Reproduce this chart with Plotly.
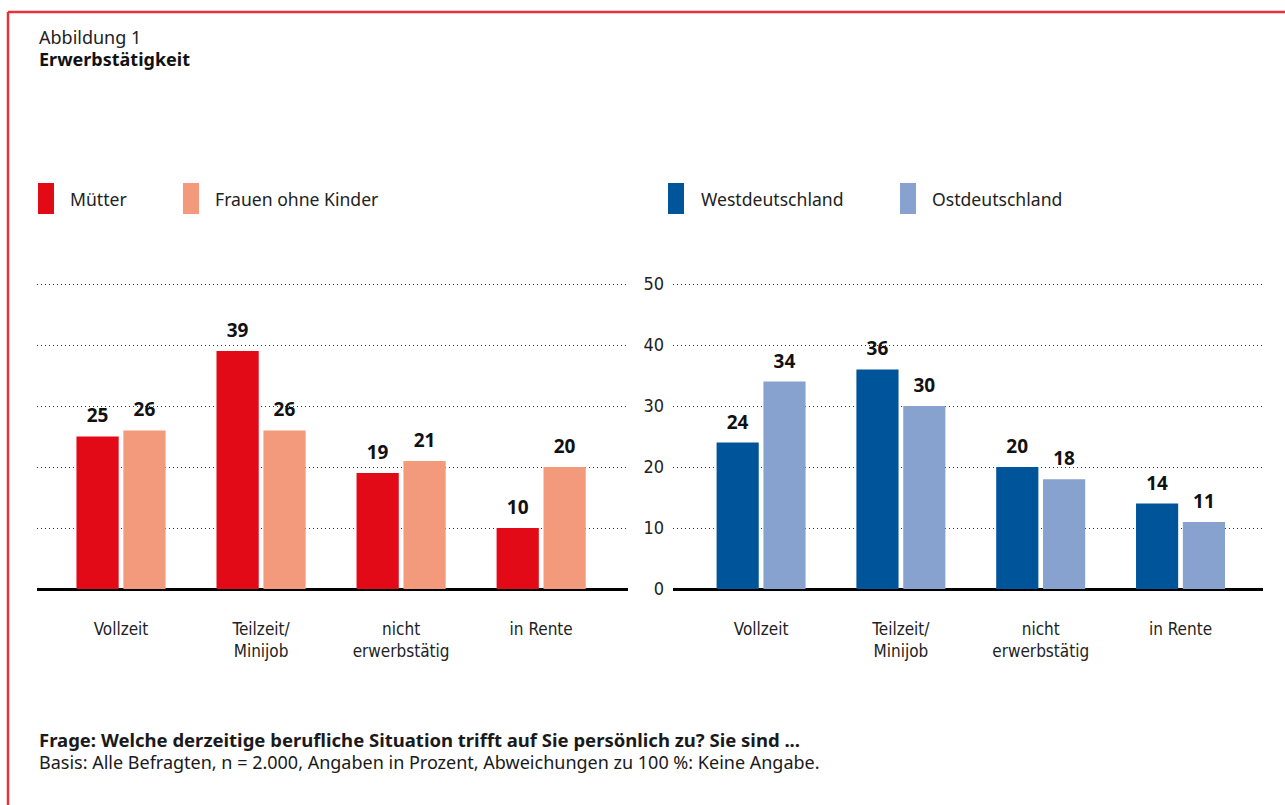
import plotly.graph_objects as go

categories = ["Vollzeit", "Teilzeit/<br>Minijob", "nicht<br>erwerbstätig", "in Rente"]
left_names = ["Mütter", "Frauen ohne Kinder"]
muetter = [25, 39, 19, 10]
frauen_ohne_kinder = [26, 26, 21, 20]
right_names = ["Westdeutschland", "Ostdeutschland"]
west = [24, 36, 20, 14]
ost = [34, 30, 18, 11]
y_ticks = [0, 10, 20, 30, 40, 50]

title_1 = "Abbildung 1"
title_2 = "Erwerbstätigkeit"
question = "Frage: Welche derzeitige berufliche Situation trifft auf Sie persönlich zu? Sie sind ..."
basis = "Basis: Alle Befragten, n = 2.000, Angaben in Prozent, Abweichungen zu 100 %: Keine Angabe."

colors = ["#E30A17", "#F29A7B", "#00559A", "#87A2CE"]

W, H = 1285, 805
def px(x):
    return x / W
def py(y):
    return 1 - y / H

NARROW = "Liberation Sans Narrow, DejaVu Sans Condensed, sans-serif"
MAIN = "Noto Sans, Open Sans, sans-serif"

fig = go.Figure()
series = [
    (left_names[0], muetter, colors[0], "x", "y"),
    (left_names[1], frauen_ohne_kinder, colors[1], "x", "y"),
    (right_names[0], west, colors[2], "x2", "y2"),
    (right_names[1], ost, colors[3], "x2", "y2"),
]
for name, vals, col, xa, ya in series:
    fig.add_trace(go.Bar(
        x=categories, y=vals, name=name, marker_color=col, marker_line_width=0,
        xaxis=xa, yaxis=ya,
        text=[f"<span style='font-size:19px'><b>{v}</b></span><br> " for v in vals],
        textposition="outside", constraintext="none",
        textfont=dict(family=MAIN, size=7, color="#111111"),
        cliponaxis=False, showlegend=False,
    ))

YMAX = 50.6
ydom = [py(589), py(589 - YMAX * 6.1)]
axis_common = dict(
    range=[0, YMAX], tickvals=y_ticks, showgrid=True, gridcolor="#333333",
    griddash="1px,3px", gridwidth=1, zeroline=True, zerolinecolor="#000000",
    zerolinewidth=3, domain=ydom, fixedrange=True,
)
fig.update_layout(
    width=W, height=H, margin=dict(l=0, r=0, t=0, b=0, pad=0, autoexpand=False),
    paper_bgcolor="white", plot_bgcolor="white",
    barmode="group", bargap=0.33, bargroupgap=0.1,
    xaxis=dict(domain=[px(37), px(628)], range=[-0.6, 3.62], type="category",
               showgrid=False, showline=False, ticks="", automargin=False,
               tickfont=dict(family=NARROW, size=17, color="#222222"),
               ticklabelstandoff=28),
    xaxis2=dict(domain=[px(673), px(1263)], range=[-0.63, 3.59], type="category",
                showgrid=False, showline=False, ticks="", anchor="y2", automargin=False,
                tickfont=dict(family=NARROW, size=17, color="#222222"),
                ticklabelstandoff=28),
    yaxis=dict(**axis_common, showticklabels=False, anchor="x", automargin=False),
    yaxis2=dict(**axis_common, anchor="x2", showticklabels=True, automargin=False,
                tickfont=dict(family=NARROW, size=18, color="#222222"),
                ticklabelstandoff=8),
    showlegend=False,
)

shapes = []
# frame lines
shapes.append(dict(type="line", xref="paper", yref="paper", x0=px(8), x1=1, y0=py(12), y1=py(12),
                   line=dict(color="#E5323C", width=2.5)))
shapes.append(dict(type="line", xref="paper", yref="paper", x0=px(8), x1=px(8), y0=py(12), y1=0,
                   line=dict(color="#E5323C", width=2.5)))

legend_items = [
    (left_names[0], colors[0], 38, 68),
    (left_names[1], colors[1], 183, 213),
    (right_names[0], colors[2], 668, 699),
    (right_names[1], colors[3], 900, 930),
]
annotations = []
for name, col, rx, tx in legend_items:
    shapes.append(dict(type="rect", xref="paper", yref="paper", x0=px(rx), x1=px(rx + 16),
                       y0=py(214), y1=py(183), fillcolor=col, line=dict(width=0)))
    annotations.append(dict(text=name, xref="paper", yref="paper", x=px(tx), y=py(199),
                            xanchor="left", yanchor="middle", showarrow=False,
                            font=dict(family=MAIN, size=17.6, color="#222222")))

footer = ("<span style='font-size:18.5px'><b>" + question + "</b></span><br>"
          "<span style='font-size:18px'>" + basis + "</span>")
annotations += [
    dict(text=title_1, xref="paper", yref="paper", x=px(37), y=py(37), xanchor="left",
         yanchor="middle", showarrow=False, font=dict(family=MAIN, size=18, color="#222222")),
    dict(text="<b>" + title_2 + "</b>", xref="paper", yref="paper", x=px(37), y=py(59),
         xanchor="left", yanchor="middle", showarrow=False,
         font=dict(family=MAIN, size=18, color="#111111")),
    dict(text=footer, xref="paper", yref="paper", x=px(37), y=py(750),
         xanchor="left", yanchor="middle", align="left", showarrow=False,
         font=dict(family=MAIN, size=17, color="#1a1a1a")),
]
fig.update_layout(shapes=shapes, annotations=annotations)

fig.write_html("out.html")
